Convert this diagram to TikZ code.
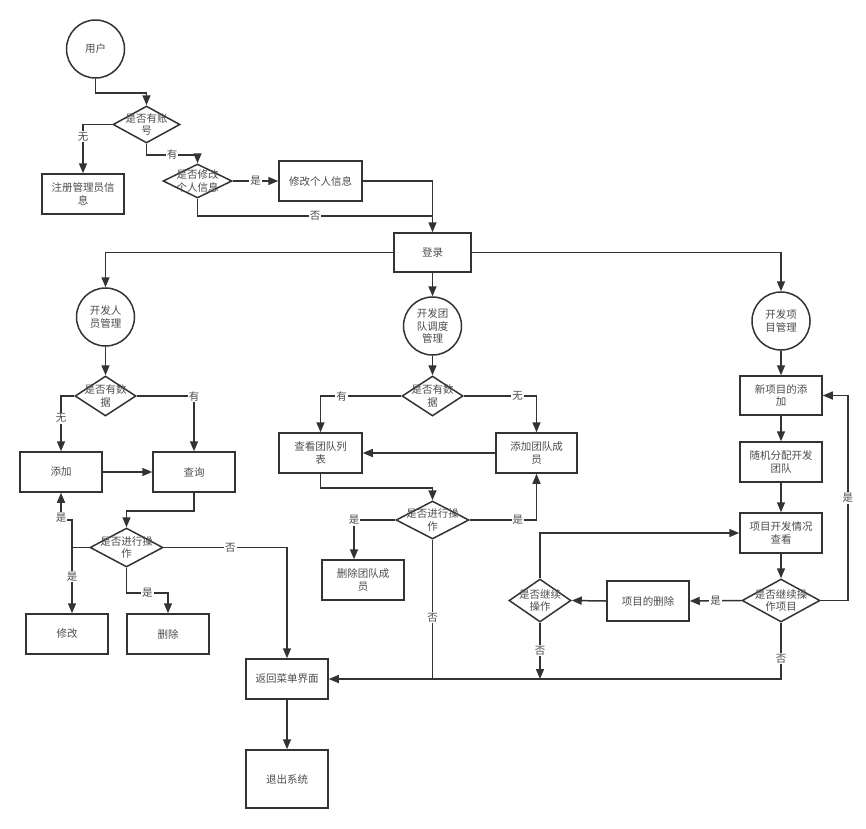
\documentclass[tikz,border=0pt]{standalone}
\usepackage{fontspec}
\setmainfont{Noto Sans CJK SC}
\usetikzlibrary{shapes.geometric,arrows.meta}
\definecolor{linec}{HTML}{333333}
\definecolor{textc}{HTML}{4D4D4D}
\begin{document}
\begin{tikzpicture}[x=1pt,y=-1pt,
  every node/.style={font=\fontsize{10.5}{12.5}\selectfont, text=textc},
  box/.style={draw=linec, line width=1.5pt, fill=white, rectangle, minimum width=82pt, minimum height=40pt, inner sep=0pt, align=center},
  circ/.style={draw=linec, line width=1.5pt, fill=white, circle, minimum size=58pt, inner sep=0pt, align=center},
  dia/.style={draw=linec, line width=1.5pt, fill=white, diamond, inner sep=0pt},
  dtext/.style={align=center},
  ln/.style={draw=linec, line width=1.5pt},
  arr/.style={draw=linec, line width=1.5pt, -{Triangle[length=10pt,width=8pt]}},
  lbl/.style={fill=white, inner sep=1pt}]
\useasboundingbox (0,0) rectangle (866,828);
% top
\node[circ] (user) at (95.5,49) {用户};
\node[dia, minimum width=67pt, minimum height=37pt, label={[dtext]center:{是否有账\\号}}] (d1) at (146.5,124.5) {};
\node[box] (reg) at (83,194) {注册管理员信\\息};
\node[dia, minimum width=69pt, minimum height=34pt, label={[dtext]center:{是否修改\\个人信息}}] (d2) at (197.5,181) {};
\node[box, minimum width=83pt] (modify) at (320.5,181) {修改个人信息};
\node[box, minimum width=77pt, minimum height=39pt] (login) at (432.5,252.5) {登录};
% circles
\node[circ] (c1) at (105.5,317) {开发人\\员管理};
\node[circ] (c2) at (432.5,326) {开发团\\队调度\\管理};
\node[circ] (c3) at (781,321) {开发项\\目管理};
% left column
\node[dia, minimum width=61pt, minimum height=40pt, label={[dtext]center:{是否有数\\据}}] (dA) at (105.5,396) {};
\node[box] (add) at (61,472) {添加};
\node[box] (query) at (194,472) {查询};
\node[dia, minimum width=73pt, minimum height=39pt, label={[dtext]center:{是否进行操\\作}}] (dB) at (126.5,547.5) {};
\node[box] (edit) at (67,634) {修改};
\node[box] (del) at (168,634) {删除};
\node[box] (back) at (287,679) {返回菜单界面};
\node[box, minimum height=58pt] (exit) at (287,779) {退出系统};
% middle column
\node[dia, minimum width=61pt, minimum height=40pt, label={[dtext]center:{是否有数\\据}}] (dC) at (432.5,396) {};
\node[box, minimum width=83pt] (viewTeam) at (320.5,453) {查看团队列\\表};
\node[box, minimum width=81pt] (addTeam) at (536.5,453) {添加团队成\\员};
\node[dia, minimum width=73pt, minimum height=38pt, label={[dtext]center:{是否进行操\\作}}] (dD) at (432.5,520) {};
\node[box] (delTeam) at (363,580) {删除团队成\\员};
% right column
\node[box, minimum height=39pt] (newProj) at (781,395.5) {新项目的添\\加};
\node[box] (assign) at (781,462) {随机分配开发\\团队};
\node[box] (viewProj) at (781,533) {项目开发情况\\查看};
\node[dia, minimum width=78pt, minimum height=43pt, label={[dtext]center:{是否继续操\\作项目}}] (dE) at (781,600.5) {};
\node[box] (delProj) at (648,601) {项目的删除};
\node[dia, minimum width=62pt, minimum height=43pt, label={[dtext]center:{是否继续\\操作}}] (dF) at (540,600.5) {};
% connectors top
\draw[arr] (user.south) -- ++(0,14) -| (d1.north);
\draw[arr] (d1.west) -| node[lbl,pos=0.625]{无} (reg.north);
\draw[arr] (d1.south) -- ++(0,11) -| node[lbl,pos=0.25]{有} (d2.north);
\draw[arr] (d2.east) -- node[lbl]{是} (modify.west);
\draw[arr] (modify.east) -| (login.north);
\coordinate (jL) at (432.5,216);
\draw[ln] (d2.south) |- node[lbl,pos=0.75]{否} (jL);
\draw[arr] (login.west) -| (c1.north);
\draw[arr] (login.south) -- (c2.north);
\draw[arr] (login.east) -| (c3.north);
% left
\draw[arr] (c1.south) -- (dA.north);
\draw[arr] (dA.west) -| node[lbl,pos=0.7]{无} (add.north);
\draw[arr] (dA.east) -| node[lbl,pos=0.5]{有} (query.north);
\draw[arr] (add.east) -- (query.west);
\draw[arr] (query.south) -- ++(0,18) -| (dB.north);
\coordinate (jA) at (72,547.5);
\draw[ln] (dB.west) -- (jA);
\draw[arr] (jA) -- ++(0,-27.5) -| node[lbl,pos=0.55]{是} (add.south);
\draw[arr] (jA) -- node[lbl,pos=0.44]{是} (jA |- edit.north);
\draw[arr] (dB.south) -- ++(0,25) -| node[lbl,pos=0.25]{是} (del.north);
\draw[arr] (dB.east) -| node[lbl,pos=0.27]{否} (back.north);
\draw[arr] (back.south) -- (exit.north);
% middle
\draw[arr] (c2.south) -- (dC.north);
\draw[arr] (dC.west) -| node[lbl,pos=0.37]{有} (viewTeam.north);
\draw[arr] (dC.east) -| node[lbl,pos=0.37]{无} (addTeam.north);
\draw[arr] (addTeam.west) -- (viewTeam.east);
\draw[arr] (viewTeam.south) -- ++(0,14) -| (dD.north);
\draw[arr] (dD.west) -| node[lbl,pos=0.5]{是} ([xshift=-9pt]delTeam.north);
\draw[arr] (dD.east) -| node[lbl,pos=0.36]{是} (addTeam.south);
\coordinate (jB) at (432.5,679);
\draw[ln] (dD.south) -- node[lbl,pos=0.56]{否} (jB);
% right
\draw[arr] (c3.south) -- (newProj.north);
\draw[arr] (newProj.south) -- (assign.north);
\draw[arr] (assign.south) -- (viewProj.north);
\draw[arr] (viewProj.south) -- (dE.north);
\draw[arr] (dE.east) -- ++(27,0) |- node[lbl,pos=0.25]{是} (newProj.east);
\draw[arr] (dE.west) -- node[lbl]{是} (delProj.east);
\draw[arr] (delProj.west) -- (dF.east);
\draw[arr] (dF.north) |- (viewProj.west);
\draw[arr] (dF.south) -- node[lbl]{否} (dF.south |- back.east);
\draw[arr] (dE.south) |- node[lbl,pos=0.32]{否} (back.east);
\end{tikzpicture}
\end{document}
